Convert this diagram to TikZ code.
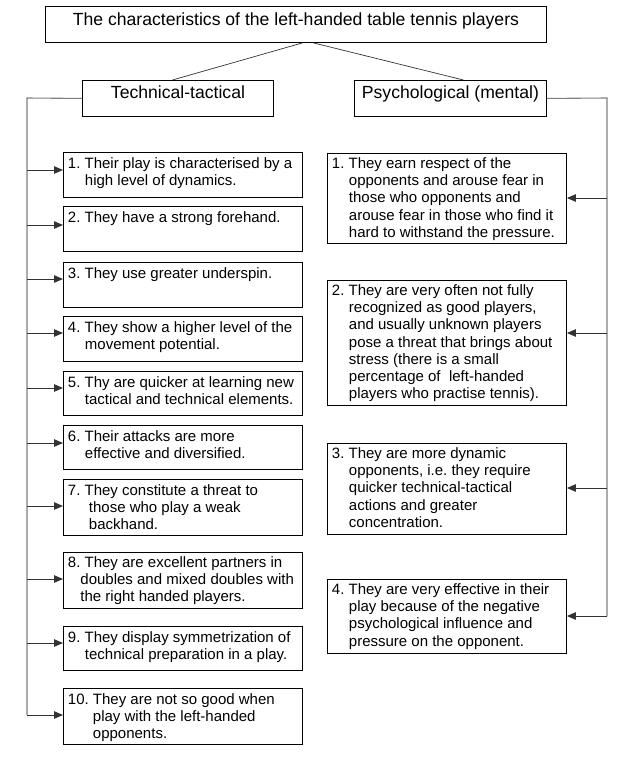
\documentclass[tikz,border=0pt]{standalone}
\usepackage{fontspec}
\setmainfont{Liberation Sans}
\usetikzlibrary{arrows.meta,calc}
\newcommand\hdrbox[4]{\parbox[t][#2][t]{#1}{\centering\rule{0pt}{#3}#4}}
\newcommand\itmbox[3]{\parbox[t][#1][t]{230pt}{\rule{0pt}{#2}\begin{tabular}[t]{@{}l@{}}#3\end{tabular}}}
\tikzset{
  hdr/.style={draw, line width=0.9pt, anchor=north west, inner sep=0pt, font=\fontsize{17.6pt}{20pt}\selectfont\frenchspacing},
  itm/.style={draw, line width=0.9pt, anchor=north west, inner xsep=4.5pt, inner ysep=0pt, font=\fontsize{15pt}{17.2pt}\selectfont\frenchspacing},
  link/.style={line width=0.7pt, draw=black!80},
  rail/.style={line width=1.1pt, draw=black!50},
  arr/.style={line width=0.9pt, draw=black!80, -{Triangle[length=9pt,width=7.5pt]}}
}
\begin{document}
\frenchspacing
\begin{tikzpicture}[x=1pt,y=-1pt]
\useasboundingbox[fill=white] (0,0) rectangle (624,761);
% headers
\node[hdr] (title) at (45,6) {\hdrbox{501pt}{36pt}{19.5pt}{The characteristics of the left-handed table tennis players}};
\node[hdr] (tech) at (82,80) {\hdrbox{191pt}{36pt}{18pt}{Technical-tactical}};
\node[hdr] (psych) at (354,80) {\hdrbox{192pt}{36pt}{18pt}{Psychological (mental)}};
\draw[link] ([xshift=6.5pt]title.south) -- ([xshift=-5.5pt]tech.north);
\draw[link] ([xshift=17.5pt]title.south) -- ([xshift=13pt]psych.north);
% left items
\node[itm] (b1) at (63,152) {\itmbox{45pt}{16pt}{1. Their play is characterised by a\\\hspace*{17pt}high level of dynamics.}};
\node[itm] (b2) at (63,206) {\itmbox{45pt}{16pt}{2. They have a strong forehand.}};
\node[itm] (b3) at (63,262) {\itmbox{45pt}{16pt}{3. They use greater underspin.}};
\node[itm] (b4) at (63,316) {\itmbox{45pt}{16pt}{4. They show a higher level of the\\\hspace*{17pt}movement potential.}};
\node[itm] (b5) at (63,371) {\itmbox{44pt}{16pt}{5. Thy are quicker at learning new\\\hspace*{17pt}tactical and technical elements.}};
\node[itm] (b6) at (63,425) {\itmbox{44pt}{16pt}{6. Their attacks are more\\\hspace*{17pt}effective and diversified.}};
\node[itm] (b7) at (63,479) {\itmbox{56pt}{16pt}{7. They constitute a threat to\\\hspace*{21pt}those who play a weak\\\hspace*{21pt}backhand.}};
\node[itm] (b8) at (63,552) {\itmbox{56pt}{15pt}{8. They are excellent partners in\\\hspace*{12.5pt}doubles and mixed doubles with\\\hspace*{12.5pt}the right handed players.}};
\node[itm] (b9) at (63,626) {\itmbox{44pt}{16pt}{9. They display symmetrization of\\\hspace*{17pt}technical preparation in a play.}};
\node[itm] (b10) at (63,688) {\itmbox{56pt}{16pt}{10. They are not so good when\\\hspace*{25pt}play with the left-handed\\\hspace*{25pt}opponents.}};
% right items
\node[itm] (r1) at (327,153) {\itmbox{90pt}{15pt}{1. They earn respect of the\\\hspace*{17pt}opponents and arouse fear in\\\hspace*{17pt}those who opponents and\\\hspace*{17pt}arouse fear in those who find it\\\hspace*{17pt}hard to withstand the pressure.}};
\node[itm] (r2) at (327,280) {\itmbox{125pt}{15pt}{2. They are very often not fully\\\hspace*{17pt}recognized as good players,\\\hspace*{17pt}and usually unknown players\\\hspace*{17pt}pose a threat that brings about\\\hspace*{17pt}stress (there is a small\\\hspace*{17pt}percentage of\ \ left-handed\\\hspace*{17pt}players who practise tennis).}};
\node[itm] (r3) at (327,443) {\itmbox{91pt}{15pt}{3. They are more dynamic\\\hspace*{17pt}opponents, i.e. they require\\\hspace*{17pt}quicker technical-tactical\\\hspace*{17pt}actions and greater\\\hspace*{17pt}concentration.}};
\node[itm] (r4) at (327,579) {\itmbox{74pt}{15pt}{4. They are very effective in their\\\hspace*{17pt}play because of the negative\\\hspace*{17pt}psychological influence and\\\hspace*{17pt}pressure on the opponent.}};
% left rail
\coordinate (Ltop) at (27,98);
\coordinate (Lbot) at (27,715);
\draw[rail] (tech.west) -- (Ltop) -- (Lbot);
\foreach \n/\yy in {1/170,2/225,3/279,4/333,5/388,6/443,7/506,8/579,9/643,10/715}{
  \coordinate (L\n) at (27,\yy);
  \draw[arr] (L\n) -- (L\n -| b\n.west);
}
% right rail
\coordinate (Rtop) at (607,98);
\coordinate (Rbot) at (607,616);
\draw[rail] (psych.east) -- (Rtop) -- (Rbot);
\foreach \n/\yy in {1/198,2/333,3/488,4/616}{
  \coordinate (R\n) at (607,\yy);
  \draw[arr] (R\n) -- (R\n -| r\n.east);
}
\end{tikzpicture}
\end{document}
